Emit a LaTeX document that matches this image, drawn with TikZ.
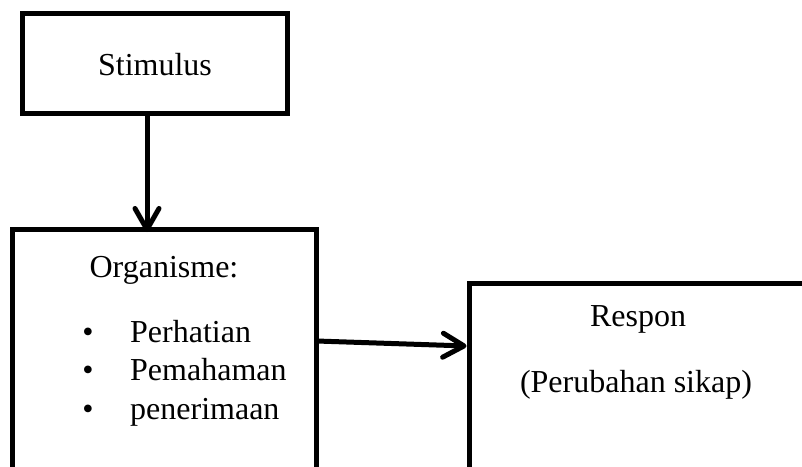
\documentclass[tikz,border=0pt]{standalone}
\usepackage{fontspec}
\setmainfont{Liberation Serif}
\usetikzlibrary{arrows.meta}
\begin{document}
\begin{tikzpicture}[x=1pt,y=-1pt,
  box/.style={draw, line width=5pt, inner sep=0pt, outer sep=0pt},
  lbl/.style={inner sep=0pt, anchor=base, font=\fontsize{32pt}{38pt}\selectfont},
  itm/.style={inner sep=0pt, anchor=base west, font=\fontsize{32pt}{38pt}\selectfont},
  arr/.style={line width=5pt, -{Straight Barb[length=21pt,width=24pt,round]}}]
\clip (0,0) rectangle (802,466);
\fill[white] (0,0) rectangle (802,466);
% boxes
\node[box, minimum width=265pt, minimum height=100pt] (stim) at (155,63.5) {};
\node[box, minimum width=304pt, minimum height=270pt] (org) at (164.5,364.5) {};
\node[box, minimum width=346pt, minimum height=196pt] (resp) at (642,381.5) {};
% texts
\node[lbl] (stimt) at (155,75) {Stimulus};
\node[lbl] (orgt) at (164,277) {Organisme:};
\node[lbl] (b1) at (88,342) {•};
\node[lbl] (b2) at (88,380) {•};
\node[lbl] (b3) at (88,419) {•};
\node[itm] (i1) at (130,342) {Perhatian};
\node[itm] (i2) at (130,380) {Pemahaman};
\node[itm] (i3) at (130,419) {penerimaan};
\node[lbl] (rt1) at (638,326) {Respon};
\node[lbl] (rt2) at (636,392) {(Perubahan sikap)};
% connectors
\draw[arr] (stim.south -| 147,0) -- ([yshift=-2.5pt]org.north -| 147,0);
\draw[arr] (org.north east |- 0,341) -- ([xshift=-2.5pt]resp.north west |- 0,346);
\end{tikzpicture}
\end{document}
